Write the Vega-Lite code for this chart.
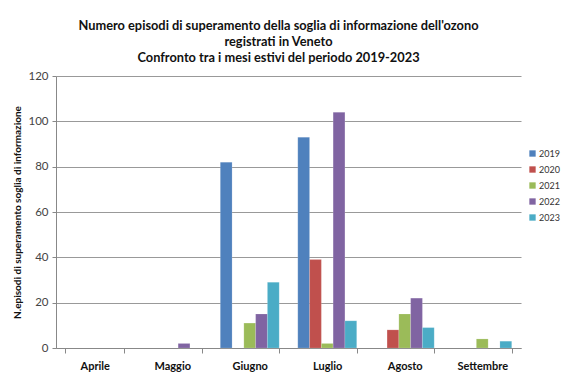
{
  "$schema": "https://vega.github.io/schema/vega-lite/v6.json",
  "autosize": {"type": "none"},
  "width": 465,
  "height": 272,
  "padding": {"left": 56, "top": 76, "right": 46, "bottom": 35},
  "background": "white",
  "title": {
    "text": ["Numero episodi di superamento della soglia di informazione dell'ozono", "registrati in Veneto", "Confronto tra i mesi estivi del periodo 2019-2023"],
    "anchor": "middle",
    "frame": "group",
    "font": "Lato",
    "fontSize": 12.8,
    "fontWeight": "bold",
    "color": "#111111",
    "lineHeight": 16,
    "offset": 5,
    "dx": -10
  },
  "data": {
    "values": [
      {"mese": "Maggio", "anno": "2022", "episodi": 2},
      {"mese": "Giugno", "anno": "2019", "episodi": 82},
      {"mese": "Giugno", "anno": "2021", "episodi": 11},
      {"mese": "Giugno", "anno": "2022", "episodi": 15},
      {"mese": "Giugno", "anno": "2023", "episodi": 29},
      {"mese": "Luglio", "anno": "2019", "episodi": 93},
      {"mese": "Luglio", "anno": "2020", "episodi": 39},
      {"mese": "Luglio", "anno": "2021", "episodi": 2},
      {"mese": "Luglio", "anno": "2022", "episodi": 104},
      {"mese": "Luglio", "anno": "2023", "episodi": 12},
      {"mese": "Agosto", "anno": "2020", "episodi": 8},
      {"mese": "Agosto", "anno": "2021", "episodi": 15},
      {"mese": "Agosto", "anno": "2022", "episodi": 22},
      {"mese": "Agosto", "anno": "2023", "episodi": 9},
      {"mese": "Settembre", "anno": "2021", "episodi": 4},
      {"mese": "Settembre", "anno": "2023", "episodi": 3}
    ]
  },
  "mark": {"type": "bar", "stroke": "#ffffff", "strokeWidth": 0.3, "strokeOpacity": 0.5},
  "encoding": {
    "x": {
      "field": "mese",
      "type": "nominal",
      "scale": {"domain": ["Aprile", "Maggio", "Giugno", "Luglio", "Agosto", "Settembre"], "paddingInner": 0.24, "paddingOuter": 0.12},
      "axis": {
        "title": null,
        "labelAngle": 0,
        "labelFont": "Lato",
        "labelFontWeight": "bold",
        "labelFontSize": 11,
        "labelColor": "#111111",
        "labelPadding": 7,
        "tickBand": "extent",
        "tickColor": "#888888",
        "tickSize": 5,
        "domainColor": "#888888",
        "grid": false
      }
    },
    "xOffset": {
      "field": "anno",
      "type": "nominal",
      "scale": {"domain": ["2019", "2020", "2021", "2022", "2023"], "paddingInner": 0, "paddingOuter": 0}
    },
    "y": {
      "field": "episodi",
      "type": "quantitative",
      "scale": {"domain": [0, 120]},
      "axis": {
        "title": "N.episodi di superamento soglia di informazione",
        "titleFont": "Lato",
        "titleFontWeight": "bold",
        "titleFontSize": 10,
        "titleColor": "#111111",
        "titlePadding": 5,
        "values": [0, 20, 40, 60, 80, 100, 120],
        "labelFont": "Lato",
        "labelFontSize": 11.5,
        "labelColor": "#444444",
        "labelPadding": 4,
        "tickColor": "#888888",
        "tickSize": 4,
        "domainColor": "#888888",
        "gridColor": "#999999",
        "gridWidth": 1
      }
    },
    "color": {
      "field": "anno",
      "type": "nominal",
      "scale": {"domain": ["2019", "2020", "2021", "2022", "2023"], "range": ["#4F81BD", "#C0504D", "#9BBB59", "#8064A2", "#4BACC6"]},
      "legend": {
        "title": null,
        "orient": "none",
        "legendX": 472,
        "legendY": 73,
        "symbolType": "square",
        "symbolSize": 40,
        "symbolStrokeWidth": 0,
        "labelFont": "Lato",
        "labelFontSize": 9,
        "labelColor": "#333333",
        "rowPadding": 6,
        "labelOffset": 2
      }
    }
  },
  "config": {"view": {"stroke": null}}
}
